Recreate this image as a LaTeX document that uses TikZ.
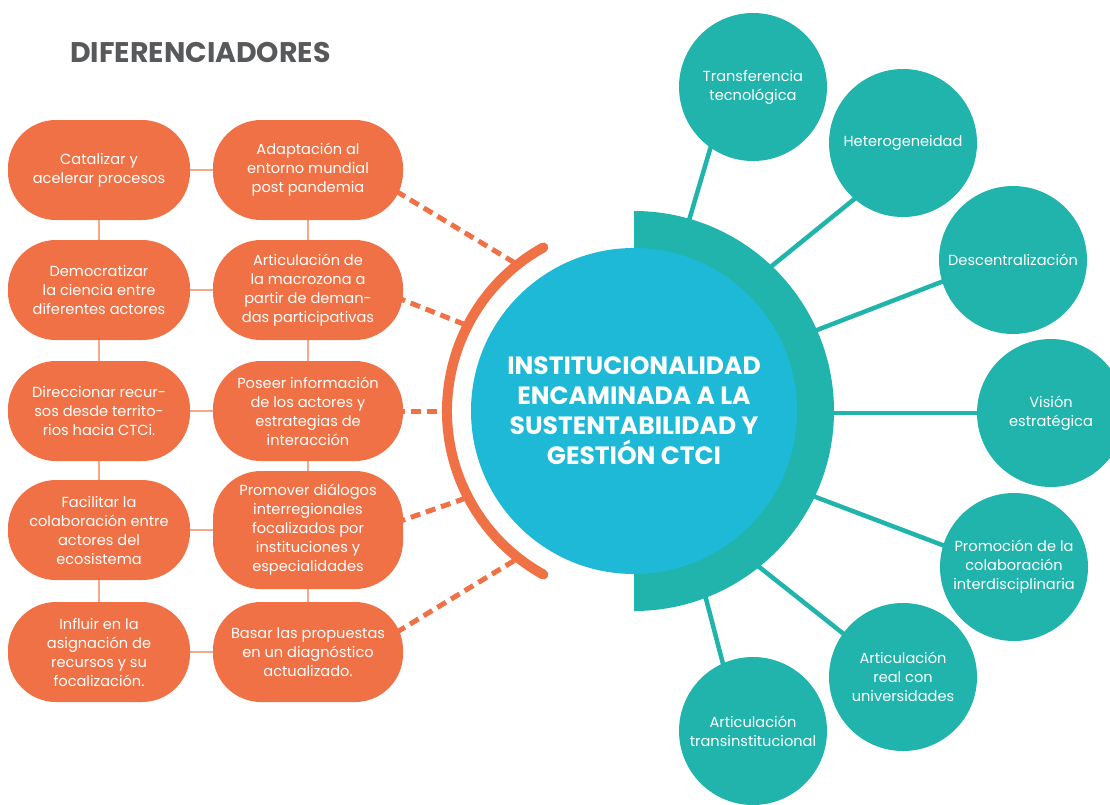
\documentclass[tikz,border=0pt]{standalone}
\usepackage{fontspec}
\setmainfont{Poppins}
\usetikzlibrary{backgrounds}
\definecolor{obox}{HTML}{EF7145}
\definecolor{olin}{HTML}{F5A98A}
\definecolor{tealc}{HTML}{20B4AC}
\definecolor{bluec}{HTML}{1DB9D7}
\definecolor{grayt}{HTML}{58595B}
\begin{document}
\begin{tikzpicture}[x=1pt,y=-1pt,
  dbox/.style={fill=obox, rounded corners=48pt, text=white, align=center, inner sep=0pt, minimum height=100pt, font=\fontsize{14.6}{19}\selectfont},
  cboxa/.style={dbox, minimum width=182pt},
  cboxb/.style={dbox, minimum width=190pt},
  sat/.style={circle, fill=tealc, minimum size=148pt, inner sep=0pt, text=white, align=center, font=\fontsize{14.6}{19}\selectfont},
  linkl/.style={olin, line width=2pt},
  dashcon/.style={obox, line width=5pt, dash pattern=on 10pt off 6pt, shorten <=-8pt},
  spoke/.style={tealc, line width=4.5pt, shorten <=-15pt, shorten >=-6pt}
]
\useasboundingbox (0,0) rectangle (1110,804);

% title
\node[anchor=west, text=grayt, font=\bfseries\fontsize{28.4}{32}\selectfont, inner sep=0pt] (title) at (70,52) {DIFERENCIADORES};

% left boxes
\node[cboxa] (b11) at (99,170) {Catalizar y\\acelerar procesos};
\node[cboxa] (b21) at (99,290) {Democratizar\\la ciencia entre\\diferentes actores};
\node[cboxa] (b31) at (99,411) {Direccionar recur-\\sos desde territo-\\rios hacia CTCi.};
\node[cboxa] (b41) at (99,530) {Facilitar la\\colaboración entre\\actores del\\ecosistema};
\node[cboxa] (b51) at (99,652) {Influir en la\\asignación de\\recursos y su\\focalización.};

\node[cboxb] (b12) at (308,170) {Adaptación al\\entorno mundial\\post pandemia};
\node[cboxb] (b22) at (308,290) {Articulación de\\la macrozona a\\partir de deman-\\das participativas};
\node[cboxb] (b32) at (308,411) {Poseer información\\de los actores y\\estrategias de\\interacción};
\node[cboxb, minimum height=118pt] (b42) at (308,530) {Promover diálogos\\interregionales\\focalizados por\\instituciones y\\especialidades};
\node[cboxb] (b52) at (308,652) {Basar las propuestas\\en un diagnóstico\\actualizado.};

% centre
\coordinate (c) at (634,411);
\fill[tealc] (c) ++(0,200) arc[start angle=90, end angle=-90, radius=200] -- cycle;
\node[circle, fill=bluec, minimum size=326pt, inner sep=0pt, text=white, align=center, font=\bfseries\fontsize{25}{30}\selectfont] (core) at (c) {INSTITUCIONALIDAD\\ENCAMINADA A LA\\SUSTENTABILIDAD Y\\GESTIÓN CTCI};

\draw[obox, line width=10pt, line cap=round] (c) ++(-119:187) arc[start angle=-119, end angle=-241, radius=187];

\path (c) ++(-128.7:189) coordinate (e1);
\path (c) ++(-152.9:189) coordinate (e2);
\path (c) ++(180:189) coordinate (e3);
\path (c) ++(152.6:189) coordinate (e4);
\path (c) ++(128.4:189) coordinate (e5);

% satellites
\node[sat] (s1) at (753,87) {Transferencia\\tecnológica};
\node[sat] (s2) at (903,143) {Heterogeneidad};
\node[sat] (s3) at (1013,260) {Descentralización};
\node[sat] (s4) at (1051,413) {Visión\\estratégica};
\node[sat] (s5) at (1014,567) {Promoción de la\\colaboración\\interdisciplinaria};
\node[sat] (s6) at (903,677) {Articulación\\real con\\universidades};
\node[sat] (s7) at (753,731) {Articulación\\transinstitucional};

\coordinate (r1) at (690,217);
\coordinate (r2) at (773,265);
\coordinate (r3) at (817,330);
\coordinate (r4) at (833,413);
\coordinate (r5) at (813,496);
\coordinate (r6) at (758,566);
\coordinate (r7) at (705,595);

\begin{pgfonlayer}{background}
  \draw[linkl] (b11) -- (b12);
  \draw[linkl] (b21) -- (b22);
  \draw[linkl] (b31) -- (b32);
  \draw[linkl] (b41) -- (b42);
  \draw[linkl] (b51) -- (b52);
  \draw[linkl] (b11) -- (b21);
  \draw[linkl] (b21) -- (b31);
  \draw[linkl] (b31) -- (b41);
  \draw[linkl] (b41) -- (b51);
  \draw[linkl] (b12) -- (b22);
  \draw[linkl] (b22) -- (b32);
  \draw[linkl] (b32) -- (b42);
  \draw[linkl] (b42) -- (b52);

  \draw[dashcon] (b12.-15) -- (e1);
  \draw[dashcon] (b22.-6) -- (e2);
  \draw[dashcon] (b32.east) -- (e3);
  \draw[dashcon] (b42.6) -- (e4);
  \draw[dashcon] (b52.14) -- (e5);

  \draw[spoke] (r1) -- (s1.235);
  \draw[spoke] (r2) -- (s2.229);
  \draw[spoke] (r3) -- (s3.197);
  \draw[spoke] (r4) -- (s4.180);
  \draw[spoke] (r5) -- (s5.163);
  \draw[spoke] (r6) -- (s6.144);
  \draw[spoke] (r7) -- (s7.114);
\end{pgfonlayer}
\end{tikzpicture}
\end{document}
